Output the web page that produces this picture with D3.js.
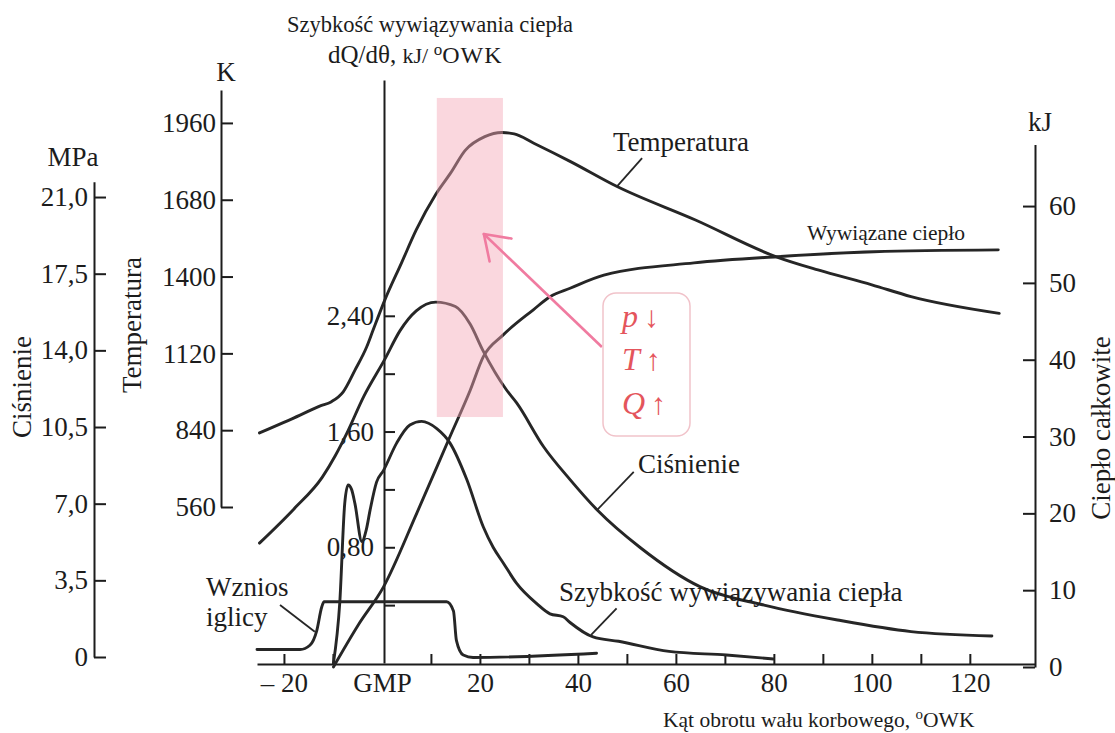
<!DOCTYPE html>
<html><head><meta charset="utf-8">
<script src="https://cdn.jsdelivr.net/npm/d3@7/dist/d3.min.js"></script>
<style>
html,body{margin:0;padding:0;background:#fff;}
svg{display:block;font-family:"Liberation Serif","Times New Roman",serif;}
</style></head><body>
<svg id="chart" width="1115" height="733"></svg>
<script>
// ---------------- DATA ----------------
// crank angle ticks (degrees, 0 = GMP)
const angleTicks = [-20,-10,0,10,20,30,40,50,60,70,80,90,100,110,120];
const angleLabels = [-20,0,20,40,60,80,100,120];
const pressureTicks = [0,3.5,7,10.5,14,17.5,21];          // MPa
const tempTicks = [560,840,1120,1400,1680,1960];          // K
const rateTicks = [0.4,0.8,1.2,1.6,2.0,2.4];              // kJ/°OWK
const rateLabelTicks = [0.8,1.6,2.4];
const heatTicks = [0,10,20,30,40,50,60];                  // kJ

// Temperature (K)
const tempAngle = [-25,-16.7,-12.7,-10.3,-7.9,-5.5,-3.1,-1.8,0.6,4,7,11,14,17,21,24.5,27,31,38.5,48,64,80.5,89,100,108,126];
const tempValue = [830,895,928,944,980,1059,1144,1205,1315,1450,1570,1700,1777,1860,1910,1925,1920,1886,1819,1728,1606,1472,1424,1370,1327,1266];

// Pressure (MPa)
const presAngle = [-25,-18,-12.2,-9.5,-7.2,-3.7,0.6,3.7,7,11,15,18,20.6,25.4,27.5,33,38.4,44,52.7,65,78,93,108,124.5];
const presValue = [5.2,6.75,8.2,9.2,10.2,11.9,13.6,14.9,15.8,16.2,16.0,15.2,14.0,12.2,11.6,9.6,8.1,6.7,5.0,3.2,2.37,1.69,1.16,0.96];

// Heat release rate dQ/dθ (kJ/°OWK)
const rateAngle = [-9.9,-8.6,-7.6,-6.9,-6.2,-5.5,-4.1,-3.2,-2.4,-1.1,0.3,3,5.7,8.1,11.2,13.9,17.3,20.7,22.7,24.8,27.5,31.6,34.3,37,38.4,43.1,48.3,58.6,70.3,79.9];
const rateValue = [0,0.42,1.1,1.23,1.2,1.1,0.84,0.92,1.06,1.25,1.33,1.52,1.645,1.67,1.62,1.52,1.27,0.94,0.8,0.69,0.55,0.41,0.34,0.32,0.28,0.18,0.15,0.08,0.055,0.028];

// Cumulative released heat (kJ)
const heatAngle = [-9.9,-4.8,0.3,7.1,13.9,18,20.7,24.7,30.9,34.3,38.4,45.3,63.7,80.6,100.4,125.8];
const heatValue = [0,5.5,10.4,20,30,36,40.4,43.2,46.5,48.2,49.3,51,52.6,53.4,54.05,54.3];

// Needle lift (relative)
const liftAngle = [-25.5,-16.7,-14.7,-13.3,-12.3,-11.8,13.2,14.6,15.2,16.6,18.6,43.8];
const liftValue = [0.22,0.22,0.29,0.53,0.91,1.0,1.0,0.85,0.37,0.13,0.09,0.16];

// highlighted combustion zone (angle range, K range)
const zoneAngle = [11.2,24.7];
const zoneTemp = [888,2051];

// ---------------- SCALES ----------------
const svg = d3.select("#chart");
const x  = d3.scaleLinear().domain([-25.5,133.3]).range([257,1035]);
const yT = d3.scaleLinear().domain([560,2080]).range([507,90]);
const yP = d3.scaleLinear().domain([0,21.7]).range([657,181.7]);
const yR = d3.scaleLinear().domain([0,4.03]).range([663,80]);
const yH = d3.scaleLinear().domain([0,68]).range([667,144.6]);
const yL = d3.scaleLinear().domain([0,1]).range([663,601.7]);

const INK = "#1c1c1c";
const comma = v => d3.format(".1f")(v).replace(".",",");

// ---------------- AXES ----------------
function styleAxis(g, size){
  g.selectAll("path.domain").attr("stroke",INK).attr("stroke-width",2);
  g.selectAll(".tick line").attr("stroke",INK).attr("stroke-width",2);
  g.selectAll(".tick text").attr("fill",INK).attr("font-size",size)
   .attr("font-family","Liberation Serif, Times New Roman, serif");
}

// Pressure axis (MPa)
const gP = svg.append("g").attr("transform","translate(94,0)")
  .call(d3.axisLeft(yP).tickValues(pressureTicks).tickSizeInner(-12).tickSizeOuter(0).tickPadding(6)
        .tickFormat(v => v===0 ? "0" : comma(v)));
styleAxis(gP,27);

// Temperature axis (K)
const gT = svg.append("g").attr("transform","translate(221,0)")
  .call(d3.axisLeft(yT).tickValues(tempTicks).tickSizeInner(-12).tickSizeOuter(0).tickPadding(5)
        .tickFormat(d3.format("d")));
styleAxis(gT,27);

// Heat release rate axis
const gR = svg.append("g").attr("transform","translate(384,0)")
  .call(d3.axisLeft(yR).tickValues(rateTicks).tickSizeInner(-11).tickSizeOuter(0).tickPadding(10)
        .tickFormat(v => rateLabelTicks.includes(v) ? d3.format(".2f")(v).replace(".",",") : ""));
styleAxis(gR,27);

// Total heat axis (kJ)
const gH = svg.append("g").attr("transform","translate(1035,0)")
  .call(d3.axisRight(yH).tickValues(heatTicks).tickSizeInner(-12).tickSizeOuter(0).tickPadding(14)
        .tickFormat(d3.format("d")));
styleAxis(gH,27);

// Crank angle axis
const gX = svg.append("g").attr("transform","translate(0,664)")
  .call(d3.axisBottom(x).tickValues(angleTicks).tickSizeInner(-10).tickSizeOuter(0).tickPadding(9)
        .tickFormat(v => angleLabels.includes(v) ? (v===0 ? "GMP" : v<0 ? "\u2013 "+Math.abs(v) : String(v)) : ""));
styleAxis(gX,27);
gX.selectAll(".tick").filter(d => d===0).select("line").remove();

// ---------------- CURVES ----------------
function curve(ang, val, ys, w){
  const pts = ang.map((a,i)=>[a,val[i]]);
  svg.append("path").datum(pts)
    .attr("d", d3.line().x(d=>x(d[0])).y(d=>ys(d[1])).curve(d3.curveMonotoneX))
    .attr("fill","none").attr("stroke","#262626").attr("stroke-width",w||2.9)
    .attr("stroke-linejoin","round").attr("stroke-linecap","round");
}
curve(tempAngle,tempValue,yT);
curve(presAngle,presValue,yP);
curve(rateAngle,rateValue,yR);
curve(heatAngle,heatValue,yH);
curve(liftAngle,liftValue,yL);

// leader lines (data-space anchors)
function leader(p1,p2,ys){
  svg.append("line").attr("x1",x(p1[0])).attr("y1",ys(p1[1])).attr("x2",x(p2[0])).attr("y2",ys(p2[1]))
    .attr("stroke","#262626").attr("stroke-width",1.8);
}
leader([47.9,1727],[53.1,1832],yT);
leader([43.9,6.71],[51.4,8.45],yP);
leader([42.7,0.194],[47.9,0.378],yR);
leader([-13.7,0.51],[-20.8,0.946],yL);

// highlighted zone
svg.append("rect")
  .attr("x",x(zoneAngle[0])).attr("width",x(zoneAngle[1])-x(zoneAngle[0]))
  .attr("y",yT(zoneTemp[1])).attr("height",yT(zoneTemp[0])-yT(zoneTemp[1]))
  .attr("fill","#f3a7b5").attr("opacity",0.45);

// pink arrow
const a0 = [x(44.9), yT(1143)], a1 = [x(20.8), yT(1555)];
svg.append("line").attr("x1",a0[0]).attr("y1",a0[1]).attr("x2",a1[0]).attr("y2",a1[1])
  .attr("stroke","#f07ba0").attr("stroke-width",2.6);
const ang = Math.atan2(a0[1]-a1[1], a0[0]-a1[0]);
[-0.6,0.6].forEach(da=>{
  svg.append("line").attr("x1",a1[0]).attr("y1",a1[1])
    .attr("x2",a1[0]+28*Math.cos(ang+da)).attr("y2",a1[1]+28*Math.sin(ang+da))
    .attr("stroke","#f07ba0").attr("stroke-width",2.6).attr("stroke-linecap","round");
});

// annotation box
svg.append("rect").attr("x",603).attr("y",293).attr("width",87).attr("height",143).attr("rx",13)
  .attr("fill","none").attr("stroke","#f1c3ca").attr("stroke-width",1.5);
const notes = [["p","\u2193",327],["T","\u2191",370],["Q","\u2191",414]];
notes.forEach(n=>{
  const t = svg.append("text").attr("x",622).attr("y",n[2]).attr("fill","#e4555c").attr("font-size",32);
  t.append("tspan").attr("font-style","italic").text(n[0]);
  t.append("tspan").attr("dx",6).attr("font-size",30).text(n[1]);
});

// ---------------- TEXTS ----------------
function txt(s,xx,yy,size,anchor,rot){
  const t = svg.append("text").attr("fill",INK).attr("font-size",size).attr("text-anchor",anchor||"start");
  if(rot){ t.attr("transform",`translate(${xx},${yy}) rotate(${rot})`); }
  else { t.attr("x",xx).attr("y",yy); }
  t.text(s); return t;
}
txt("Szybkość wywiązywania ciepła",430,32,22.5,"middle");
const t2 = svg.append("text").attr("x",328).attr("y",63).attr("fill",INK).attr("font-size",25);
t2.append("tspan").text("dQ/d\u03B8, ");
t2.append("tspan").attr("font-size",22).text("kJ/ ");
t2.append("tspan").attr("font-size",17).attr("dy",-8).text("o");
t2.append("tspan").attr("font-size",24).attr("dy",8).attr("letter-spacing",1).text("OWK");

txt("K",226,81,27,"middle");
txt("MPa",73,166,27,"middle");
txt("kJ",1040,131,27,"middle");

txt("Ciśnienie",31,387,27,"middle",-90);
txt("Temperatura",141,325,27,"middle",-90);
txt("Ciepło całkowite",1110,428,27,"middle",-90);

txt("Temperatura",613,151,27);
txt("Ciśnienie",638,473,27);
txt("Wywiązane ciepło",807,240,21.5);
txt("Szybkość wywiązywania ciepła",559,601,27);
txt("Wznios",206,596,27);
txt("iglicy",206,626,27);

const tx = svg.append("text").attr("x",663).attr("y",727).attr("fill",INK).attr("font-size",21.5);
tx.append("tspan").text("Kąt obrotu wału korbowego, ");
tx.append("tspan").attr("font-size",15).attr("dy",-8).text("o");
tx.append("tspan").attr("dy",8).text("OWK");
</script>
</body></html>
